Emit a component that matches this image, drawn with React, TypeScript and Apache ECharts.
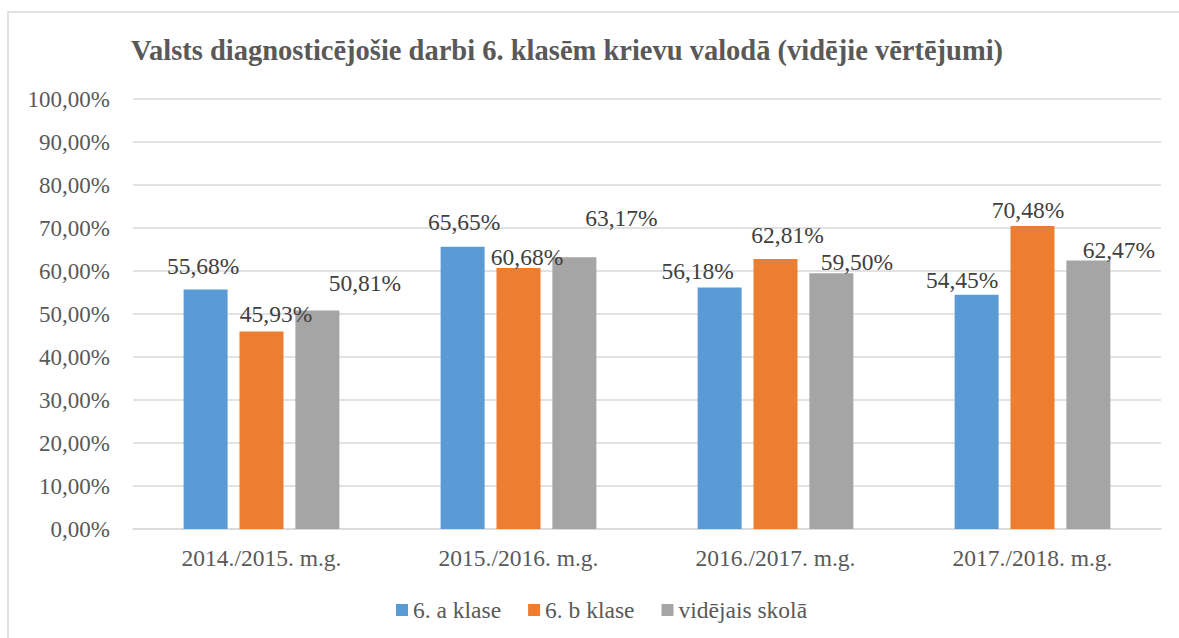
import React, { useEffect, useRef } from "react";
import * as echarts from "echarts";

const categories = ["2014./2015. m.g.", "2015./2016. m.g.", "2016./2017. m.g.", "2017./2018. m.g."];
const seriesNames = ["6. a klase", "6. b klase", "vidējais skolā"];
const classA = [55.68, 65.65, 56.18, 54.45];
const classB = [45.93, 60.68, 62.81, 70.48];
const schoolAvg = [50.81, 63.17, 59.5, 62.47];
const yTicks = { min: 0, max: 100, interval: 10 };
const titleText = "Valsts diagnosticējošie darbi 6. klasēm krievu valodā (vidējie vērtējumi)";

// manual label nudges (dx, rise above bar top) as in the source
const nudgeA = [[-2.5, 24], [1.5, 25], [-22, 16], [-14.5, 15]];
const nudgeB = [[14.5, 18], [8.5, 11.5], [12, 24], [-4.5, 16]];
const nudgeC = [[47.5, 28], [47, 39], [25.5, 11.5], [30.5, 10.5]];

const colors = ["#5B9BD5", "#ED7D31", "#A5A5A5"];
const textColor = "#595959";
const FONT = "Liberation Serif, serif";

const fmt = (v: number) => v.toFixed(2).replace(".", ",") + "%";

function makeSeries(name: string, values: number[], nudges: number[][], color: string) {
  return {
    name,
    type: "bar",
    barWidth: 44,
    barGap: "27%",
    itemStyle: { color },
    data: values.map((v, i) => ({
      value: v,
      label: {
        show: true,
        position: "top",
        distance: 0,
        offset: [nudges[i][0], -(nudges[i][1] - 12)],
        formatter: () => fmt(v),
        color: "#404040",
        fontFamily: FONT,
        fontSize: 23.5,
        lineHeight: 24,
      },
    })),
  };
}

export default function App() {
  const ref = useRef<HTMLDivElement>(null);
  useEffect(() => {
    if (!ref.current) return;
    const chart = echarts.init(ref.current, undefined, { renderer: "svg" });
    chart.setOption({
      animation: false,
      backgroundColor: "#ffffff",
      textStyle: { fontFamily: FONT },
      title: {
        text: titleText,
        left: 131,
        top: 35,
        padding: 0,
        textStyle: { fontFamily: FONT, fontSize: 28.5, fontWeight: "bold", color: textColor, lineHeight: 30 },
      },
      graphic: [
        {
          type: "rect",
          shape: { x: 8, y: 12, width: 1400, height: 800 },
          style: { fill: "none", stroke: "#D9D9D9", lineWidth: 1.5 },
          silent: true,
          z: 100,
        },
      ],
      legend: {
        left: 391,
        top: 593,
        itemWidth: 12,
        itemHeight: 12,
        itemGap: 27,
        icon: "rect",
        textStyle: { fontFamily: FONT, fontSize: 23.5, color: textColor },
        data: seriesNames,
      },
      grid: { left: 133, right: 18, top: 99, bottom: 109, containLabel: false },
      xAxis: {
        type: "category",
        data: categories,
        axisLine: { lineStyle: { color: "#D9D9D9", width: 1.5 } },
        axisTick: { show: false },
        axisLabel: { fontFamily: FONT, fontSize: 23.5, color: textColor, margin: 17 },
      },
      yAxis: {
        type: "value",
        min: yTicks.min,
        max: yTicks.max,
        interval: yTicks.interval,
        axisLine: { show: false },
        axisTick: { show: false },
        splitLine: { lineStyle: { color: "#D9D9D9", width: 1.5 } },
        axisLabel: { fontFamily: FONT, fontSize: 23, color: textColor, margin: 23, formatter: (v: number) => fmt(v) },
      },
      series: [
        makeSeries(seriesNames[0], classA, nudgeA, colors[0]),
        makeSeries(seriesNames[1], classB, nudgeB, colors[1]),
        makeSeries(seriesNames[2], schoolAvg, nudgeC, colors[2]),
      ],
    });
    return () => chart.dispose();
  }, []);
  return (
    <div
      ref={ref}
      style={{ position: "fixed", left: 0, top: 0, width: 1179, height: 638, background: "#fff" }}
    />
  );
}
